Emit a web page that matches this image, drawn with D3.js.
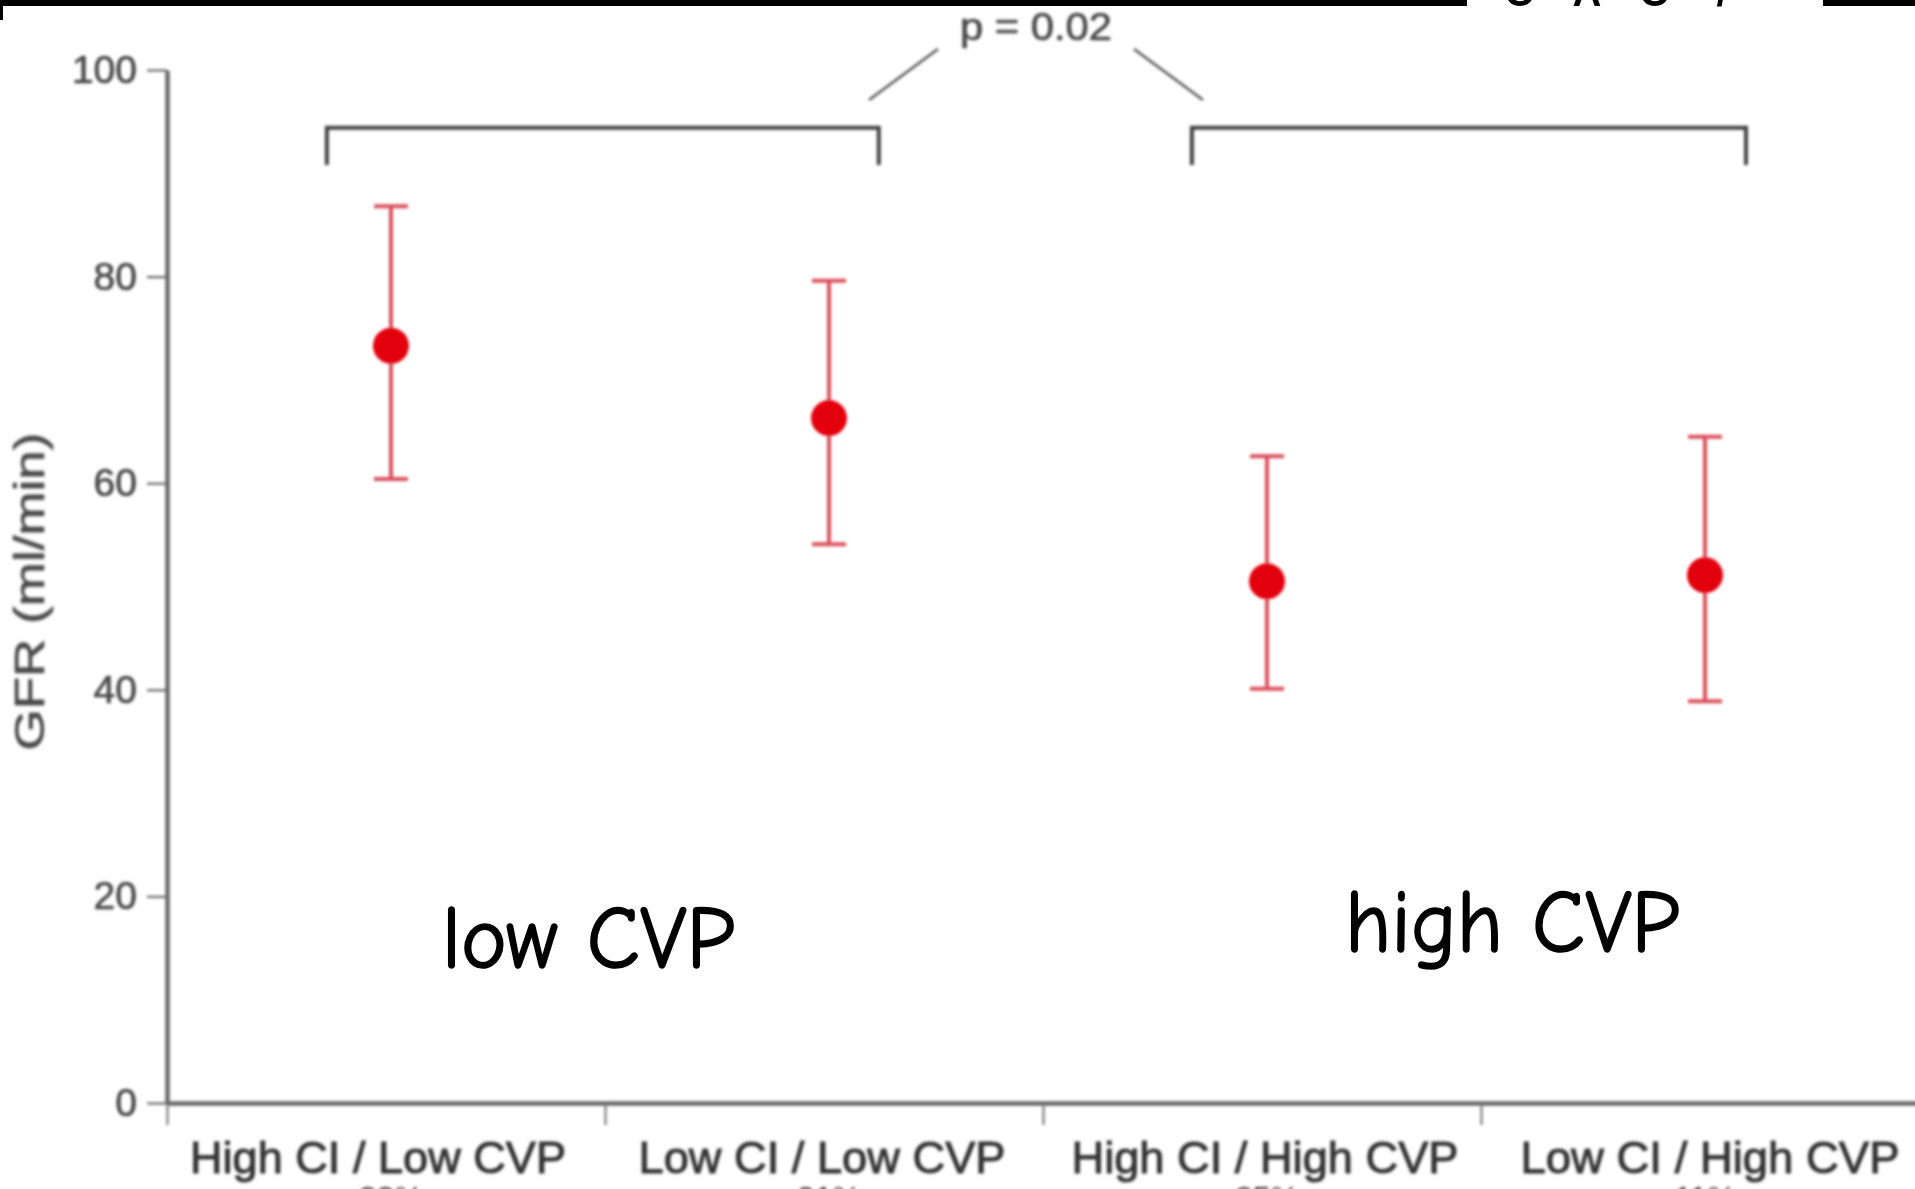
<!DOCTYPE html>
<html>
<head>
<meta charset="utf-8">
<script src="https://cdn.jsdelivr.net/npm/d3@7"></script>
<style>
  html, body { margin: 0; padding: 0; background: #fff; overflow: hidden; }
  svg { display: block; }
</style>
</head>
<body>
<script>
// GFR by haemodynamic profile (mean with 95% CI)
const categories = ["High CI / Low CVP", "Low CI / Low CVP", "High CI / High CVP", "Low CI / High CVP"];
const groupShares = ["33%", "31%", "25%", "11%"];
const gfrMean  = [73.3, 66.3, 50.5, 51.1];
const gfrLower = [60.4, 54.1, 40.1, 38.9];
const gfrUpper = [86.8, 79.6, 62.6, 64.5];
const yTicks = [0, 20, 40, 60, 80, 100];
const bracketGroups = [[0, 1], [2, 3]];
const pLabel = "p = 0.02";
const groupNotes = ["low CVP", "high CVP"];

const W = 1915, H = 1189;
const svg = d3.select("body").append("svg").attr("width", W).attr("height", H);

const defs = svg.append("defs");
defs.append("filter").attr("id", "soft")
  .attr("x", "-5%").attr("y", "-5%").attr("width", "110%").attr("height", "110%")
  .append("feGaussianBlur").attr("stdDeviation", 1.4);

const y = d3.scaleLinear().domain([0, 100]).range([1103, 70]);
const x = d3.scaleBand().domain(categories).range([167, 167 + 4 * 438]).padding(0);
const bw = x.bandwidth();
const cx = c => x(c) + bw / 2 + 5;

const sansFont = "'Liberation Sans', Arial, sans-serif";
const chart = svg.append("g").attr("filter", "url(#soft)");

// y axis
const yAxis = chart.append("g").attr("transform", "translate(167,0)")
  .call(d3.axisLeft(y).tickValues(yTicks).tickSize(20).tickSizeOuter(0).tickPadding(10));
yAxis.select(".domain").attr("stroke", "#666").attr("stroke-width", 4.5);
yAxis.selectAll(".tick line").attr("stroke", "#666").attr("stroke-width", 2.2);
yAxis.selectAll(".tick text")
  .attr("fill", "#4a4a4a").attr("font-size", 39)
  .attr("stroke", "#4a4a4a").attr("stroke-width", 0.7)
  .attr("font-family", sansFont);

chart.append("text")
  .attr("transform", `translate(44,${y(50) + 5}) rotate(-90)`)
  .attr("text-anchor", "middle")
  .attr("fill", "#4a4a4a").attr("font-size", 42)
  .attr("stroke", "#4a4a4a").attr("stroke-width", 0.7)
  .attr("font-family", sansFont)
  .attr("textLength", 318).attr("lengthAdjust", "spacingAndGlyphs")
  .text("GFR (ml/min)");

// x axis with boundaries between groups
const xb = d3.scaleLinear().domain([0, categories.length]).range(x.range());
const xAxis = chart.append("g").attr("transform", `translate(0,${y(0)})`)
  .call(d3.axisBottom(xb).tickValues(d3.range(categories.length)).tickFormat("").tickSize(22).tickSizeOuter(0));
xAxis.select(".domain").attr("stroke", "#666").attr("stroke-width", 4.5);
xAxis.selectAll(".tick line").attr("stroke", "#777").attr("stroke-width", 2.2);

const labelWidths = [376, 367, 387, 379];
chart.append("g").selectAll("text.cat").data(categories).join("text")
  .attr("class", "cat")
  .attr("x", (d, i) => x(d) + bw / 2 + [-8, -2, 3, 10][i])
  .attr("y", 1173)
  .attr("text-anchor", "middle")
  .attr("fill", "#333").attr("font-size", 45)
  .attr("stroke", "#333").attr("stroke-width", 1)
  .attr("font-family", sansFont)
  .attr("textLength", (d, i) => labelWidths[i]).attr("lengthAdjust", "spacingAndGlyphs")
  .text(d => d);

chart.append("g").selectAll("text.share").data(groupShares).join("text")
  .attr("class", "share")
  .attr("x", (d, i) => cx(categories[i]))
  .attr("y", 1209)
  .attr("text-anchor", "middle")
  .attr("fill", "#333").attr("font-size", 32)
  .attr("font-family", sansFont)
  .text(d => d);

// error bars
const bars = chart.append("g").selectAll("g").data(categories).join("g");
bars.append("line")
  .attr("x1", d => cx(d)).attr("x2", d => cx(d))
  .attr("y1", (d, i) => y(gfrUpper[i])).attr("y2", (d, i) => y(gfrLower[i]))
  .attr("stroke", "#d9505c").attr("stroke-width", 4);
[gfrUpper, gfrLower].forEach(arr => {
  bars.append("line")
    .attr("x1", d => cx(d) - 17).attr("x2", d => cx(d) + 17)
    .attr("y1", (d, i) => y(arr[i])).attr("y2", (d, i) => y(arr[i]))
    .attr("stroke", "#d9505c").attr("stroke-width", 4);
});
bars.append("circle")
  .attr("cx", d => cx(d)).attr("cy", (d, i) => y(gfrMean[i]))
  .attr("r", 18).attr("fill", "#e30010");

// comparison brackets
const bracketTop = 94.4, bracketDrop = 3.6;
const bracketSpans = [[0.365, 0.625], [0.34, 0.605]];
bracketGroups.forEach((g, k) => {
  const x0 = x(categories[g[0]]) + bw * bracketSpans[k][0];
  const x1 = x(categories[g[1]]) + bw * bracketSpans[k][1];
  const path = d3.path();
  path.moveTo(x0, y(bracketTop - bracketDrop));
  path.lineTo(x0, y(bracketTop));
  path.lineTo(x1, y(bracketTop));
  path.lineTo(x1, y(bracketTop - bracketDrop));
  chart.append("path").attr("d", path.toString())
    .attr("fill", "none").attr("stroke", "#404040").attr("stroke-width", 4);
});

const pX = 1036;
chart.append("text")
  .attr("x", pX).attr("y", 40)
  .attr("text-anchor", "middle")
  .attr("fill", "#4a4a4a").attr("font-size", 38)
  .attr("stroke", "#4a4a4a").attr("stroke-width", 0.7)
  .attr("font-family", sansFont)
  .attr("textLength", 152).attr("lengthAdjust", "spacingAndGlyphs")
  .text(pLabel);
[-1, 1].forEach(s => {
  chart.append("line")
    .attr("x1", pX + s * 167).attr("y1", 100)
    .attr("x2", pX + s * 98).attr("y2", 49)
    .attr("stroke", "#555").attr("stroke-width", 2.5);
});

// top strip
svg.append("rect").attr("x", 0).attr("y", 0).attr("width", W).attr("height", 6).attr("fill", "#000");
svg.append("rect").attr("x", 0).attr("y", 0).attr("width", 3).attr("height", 20).attr("fill", "#000");
svg.append("rect").attr("x", 1467).attr("y", 0).attr("width", 356).attr("height", 7).attr("fill", "#fff");
svg.append("g").selectAll("text").data(["O", "A", "O", "/"]).join("text")
  .attr("x", (d, i) => [1520, 1587, 1655, 1722][i]).attr("y", 6)
  .attr("text-anchor", "middle")
  .attr("font-size", 40).attr("font-weight", 700)
  .attr("font-family", sansFont)
  .attr("fill", "#000").text(d => d);

// group notes
const noteFont = "'Comic Sans MS', 'Comic Neue', 'Noto Sans', sans-serif";
[[442, 968, 293], [1345, 952, 335]].forEach((p, i) => {
  svg.append("text")
    .attr("x", p[0]).attr("y", p[1])
    .attr("font-size", 88).attr("font-weight", 500).attr("font-family", noteFont)
    .attr("stroke", "#000").attr("stroke-width", 1.6).attr("stroke-linejoin", "round")
    .attr("textLength", p[2]).attr("lengthAdjust", "spacingAndGlyphs")
    .attr("fill", "#000").text(groupNotes[i]);
});
</script>
</body>
</html>
